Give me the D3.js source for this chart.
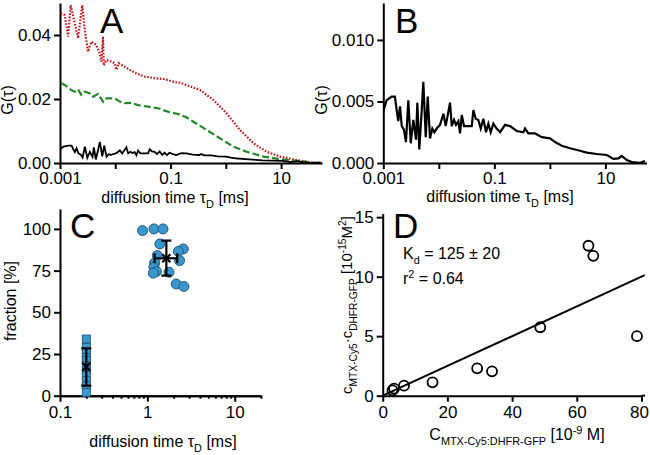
<!DOCTYPE html>
<html><head><meta charset="utf-8">
<script src="https://cdn.jsdelivr.net/npm/d3@7"></script>
<style>
body{margin:0;background:#fff;}
text{font-family:"Liberation Sans",Arial,sans-serif;fill:#000;}
</style></head>
<body>
<svg id="c" width="650" height="455"></svg>
<script>
// ---------- DATA ----------
// Panel A/B black curve (same measurement)
const tauBlack = [0.001,0.00115,0.00142,0.00162,0.00174,0.00186,0.0020,0.00215,0.00236,0.00256,0.00282,0.00312,0.00347,0.00388,0.0041,0.00445,0.00492,0.00526,0.00581,0.00631,0.00694,0.00764,0.0083,0.00916,0.0105,0.0121,0.0133,0.0159,0.0171,0.0188,0.0204,0.0225,0.0241,0.0259,0.0284,0.034,0.0392,0.0419,0.0462,0.0515,0.0569,0.0634,0.0708,0.078,0.0861,0.096,0.110,0.127,0.156,0.192,0.253,0.333,0.357,0.41,0.541,0.714,1.01,1.24,1.64,2.31,3.5,4.62,7.0,10.6,13.9,17.1,19.7,24.3,29.9,42.2,51.9];
const gBlack = [0.0042,0.0051,0.0054,0.0054,0.0043,0.0034,0.0046,0.0030,0.0027,0.0017,0.0051,0.0016,0.0035,0.0019,0.0049,0.0011,0.0043,0.0066,0.0021,0.0054,0.0020,0.0028,0.0025,0.0028,0.0031,0.0040,0.0030,0.0049,0.0030,0.0035,0.0031,0.0034,0.0024,0.0039,0.0030,0.0030,0.0030,0.0043,0.0036,0.0035,0.0028,0.0036,0.0025,0.0032,0.0025,0.0032,0.0028,0.0025,0.0031,0.0030,0.0026,0.0025,0.0028,0.0024,0.0024,0.0021,0.0020,0.0017,0.0014,0.0012,0.0010,0.00084,0.00073,0.00065,0.00033,0.00038,0.00057,0.00024,0.00008,0.00002,0.00016];
// Panel A red dotted curve
const tauRed = [0.00103,0.00122,0.0014,0.00156,0.00185,0.00212,0.00253,0.0028,0.00321,0.00369,0.00454,0.00523,0.00559,0.0060,0.0062,0.00689,0.00848,0.00977,0.01045,0.01154,0.01483,0.01828,0.02404,0.0341,0.0518,0.0785,0.111,0.149,0.342,0.596,1.04,1.81,3.16,5.51,9.6,19.2,38.5,55];
const gRed = [0.0468,0.0462,0.0395,0.0493,0.0437,0.039,0.0493,0.0416,0.0348,0.0379,0.0369,0.0343,0.0317,0.0395,0.0305,0.0322,0.0317,0.0312,0.0291,0.0312,0.0301,0.0291,0.028,0.027,0.0265,0.0262,0.0254,0.0251,0.0228,0.0197,0.0155,0.0103,0.0062,0.0035,0.002,0.0009,0.0001,0.0];
// Panel A green dashed curve
const tauGreen = [0.00106,0.00122,0.0016,0.00185,0.00212,0.00243,0.0028,0.00345,0.00396,0.00487,0.006,0.00644,0.00848,0.01045,0.01204,0.01483,0.0195,0.0258,0.0392,0.0594,0.0901,0.137,0.193,0.259,0.452,0.787,1.37,2.39,4.79,9.6,19.2,38.5,55];
const gGreen = [0.0249,0.0244,0.0228,0.0223,0.023,0.0213,0.0223,0.0218,0.0207,0.0216,0.0192,0.0202,0.0202,0.0199,0.0192,0.0187,0.0188,0.0181,0.0176,0.0171,0.016,0.0153,0.0143,0.0129,0.0103,0.0077,0.0051,0.0035,0.002,0.0012,0.0007,0.0001,0.0];
// Panel C
const circTau = [0.88,1.19,1.51,1.39,1.30,1.21,1.19,1.27,1.17,1.77,2.58,2.26,2.34,2.14,2.62];
const circFrac = [99,100,100,91,84,79.5,77,74.5,73.5,74,88,86.5,81,67,65.5];
const sqTau = [0.2,0.2,0.2,0.2,0.2,0.2,0.2,0.2,0.2,0.2,0.2];
const sqFrac = [34,29,26,23,21,18,15,12,9,6,2];
const meanTau = [0.2,1.65], meanFrac = [17.4,82.4];
const fracLo = [6,72], fracHi = [28.4,93];
const tauLo = [0.2,1.21], tauHi = [0.2,2.2];
// Panel D
const dX = [3.0,3.5,6.6,15.4,29.2,33.8,48.7,63.6,65.1,78.6];
const dY = [0.45,0.6,0.84,1.12,2.3,2.05,5.75,12.6,11.75,5.0];
const Kd = 125, fitXMax = 81;
// Ticks
const ticksAB = [0.001,0.01,0.1,1,10];
const labelsAB = [0.001,0.1,10];
const ticksAy = [0,0.02,0.04], ticksBy = [0,0.005,0.010];
const ticksCx = [0.1,1,10], ticksCy = [0,25,50,75,100];
const ticksDx = [0,20,40,60,80], ticksDy = [0,5,10,15];

// ---------- DRAW ----------
const svg = d3.select('#c');
const TF = 17, LF = 16;
const FAM = '"Liberation Sans", Arial, sans-serif';

function txt(sel, size){ return sel.style('font-size', size+'px').style('font-family', FAM); }
function rich(t, parts, size){
  let cur = 0;
  parts.forEach(([s,k])=>{
    const off = k==='sub' ? size*0.3 : k==='sup' ? -size*0.4 : 0;
    t.append('tspan').attr('dy', off-cur).style('font-size', (k==='n'?size:size*0.68)+'px').text(s);
    cur = off;
  });
}
function styleAxis(g){
  g.attr('font-size', null).attr('font-family', null);
  g.select('.domain').attr('stroke','#000').attr('stroke-width',2);
  g.selectAll('.tick line').attr('stroke','#000').attr('stroke-width',2);
  txt(g.selectAll('.tick text'), TF).attr('fill','#000');
  return g;
}
const fmtAB = d => labelsAB.includes(d) ? String(d) : '';

function gPanel(x0,x1,yTop,yBot,yDom,yTicks,yFmt,id){
  const x = d3.scaleLog().domain([0.001,55]).range([x0,x1]);
  const y = d3.scaleLinear().domain(yDom).range([yBot,yTop]);
  svg.append('clipPath').attr('id',id).append('rect').attr('x',x0).attr('y',yTop).attr('width',x1-x0).attr('height',yBot-yTop);
  styleAxis(svg.append('g').attr('transform',`translate(${x0},0)`)
    .call(d3.axisLeft(y).tickValues(yTicks).tickFormat(yFmt).tickSize(6).tickSizeOuter(0).tickPadding(3)));
  styleAxis(svg.append('g').attr('transform',`translate(0,${yBot})`)
    .call(d3.axisBottom(x).tickValues(ticksAB).tickFormat(fmtAB).tickSize(6).tickSizeOuter(0).tickPadding(3)));
  return {x,y};
}

// Panel A
const A = gPanel(60,322,3,163,[0,0.05],ticksAy,d3.format('.2f'),'clipA');
const lineA = (tt,gg)=> d3.line().x((d,i)=>A.x(tt[i])).y(d=>A.y(d))(gg.slice(0,tt.length));
const layerA = svg.append('g').attr('clip-path','url(#clipA)');
layerA.append('path').attr('d',lineA(tauRed,gRed)).attr('fill','none').attr('stroke','#c4161c').attr('stroke-width',2.2).attr('stroke-dasharray','1.6,1.6');
layerA.append('path').attr('d',lineA(tauGreen,gGreen)).attr('fill','none').attr('stroke','#22882a').attr('stroke-width',2.2).attr('stroke-dasharray','7,3');
layerA.append('path').attr('d',lineA(tauBlack,gBlack)).attr('fill','none').attr('stroke','#000').attr('stroke-width',1.8);

// Panel B
const B = gPanel(383.3,646.5,3,163,[0,0.013],ticksBy,d3.format('.3f'),'clipB');
svg.append('g').attr('clip-path','url(#clipB)').append('path')
  .attr('d',d3.line().x((d,i)=>B.x(tauBlack[i])).y(d=>B.y(d))(gBlack.slice(0,tauBlack.length)))
  .attr('fill','none').attr('stroke','#000').attr('stroke-width',2.2);

// Axis labels
function tauLabel(cx,by){
  const t = txt(svg.append('text').attr('x',cx).attr('y',by).attr('text-anchor','middle'), LF);
  rich(t,[['diffusion time \u03C4','n'],['D','sub'],[' [ms]','n']],LF);
}
tauLabel(175,203); tauLabel(500,202);
function gLabel(x,y){
  txt(svg.append('text').attr('transform',`translate(${x},${y}) rotate(-90)`).attr('text-anchor','middle'), LF).text('G(\u03C4)');
}
gLabel(13,100); gLabel(327,100);

// Panel C
const Cx = d3.scaleLog().domain([0.1,20]).range([60,261]);
const Cy = d3.scaleLinear().domain([0,112]).range([395.7,208.9]);
const minorC = [0.2,0.3,0.4,0.5,0.6,0.7,0.8,0.9,2,3,4,5,6,7,8,9,20];
styleAxis(svg.append('g').attr('transform','translate(0,395.7)').call(d3.axisBottom(Cx).tickValues(minorC).tickFormat('').tickSize(3).tickSizeOuter(0)));
styleAxis(svg.append('g').attr('transform','translate(0,395.7)').call(d3.axisBottom(Cx).tickValues(ticksCx).tickFormat(d=>String(d)).tickSize(6).tickSizeOuter(0).tickPadding(4)));
styleAxis(svg.append('g').attr('transform','translate(60,0)').call(d3.axisLeft(Cy).tickValues(ticksCy).tickSize(6).tickSizeOuter(0).tickPadding(3)));
const blue = '#3a96cc', blueEdge = '#1b4f72';
svg.append('g').selectAll('rect').data(sqFrac).join('rect')
  .attr('x',(d,i)=>Cx(sqTau[i])-4).attr('y',d=>Cy(d)-4).attr('width',8).attr('height',8)
  .attr('fill',blue).attr('stroke',blueEdge).attr('stroke-width',0.8);
svg.append('g').selectAll('circle').data(circFrac).join('circle')
  .attr('cx',(d,i)=>Cx(circTau[i])).attr('cy',d=>Cy(d)).attr('r',5)
  .attr('fill',blue).attr('stroke',blueEdge).attr('stroke-width',0.9);
const eb = svg.append('g').attr('stroke','#000').attr('stroke-width',2.2);
meanTau.forEach((t,i)=>{
  const cx = Cx(t), cy = Cy(meanFrac[i]);
  eb.append('line').attr('x1',cx).attr('x2',cx).attr('y1',Cy(fracLo[i])).attr('y2',Cy(fracHi[i]));
  [fracLo[i],fracHi[i]].forEach(v=>eb.append('line').attr('x1',cx-5).attr('x2',cx+5).attr('y1',Cy(v)).attr('y2',Cy(v)));
  if (tauHi[i]>tauLo[i]){
    eb.append('line').attr('x1',Cx(tauLo[i])).attr('x2',Cx(tauHi[i])).attr('y1',cy).attr('y2',cy);
    [tauLo[i],tauHi[i]].forEach(v=>eb.append('line').attr('x1',Cx(v)).attr('x2',Cx(v)).attr('y1',cy-5).attr('y2',cy+5));
  }
  eb.append('line').attr('x1',cx-4).attr('x2',cx+4).attr('y1',cy-4).attr('y2',cy+4);
  eb.append('line').attr('x1',cx-4).attr('x2',cx+4).attr('y1',cy+4).attr('y2',cy-4);
});
tauLabel(163,447);
txt(svg.append('text').attr('transform','translate(16,301) rotate(-90)').attr('text-anchor','middle'), LF).text('fraction [%]');

// Panel D
const Dx = d3.scaleLinear().domain([0,80]).range([382.7,641.5]);
const Dy = d3.scaleLinear().domain([0,15.3]).range([395.7,213.6]);
const gdx = styleAxis(svg.append('g').attr('transform','translate(0,395.7)').call(d3.axisBottom(Dx).tickValues(ticksDx).tickSize(6).tickSizeOuter(0).tickPadding(4)));
gdx.selectAll('.tick text').filter(d=>d===80).attr('dx',-2.5);
svg.append('line').attr('x1',Dx(80)).attr('x2',645).attr('y1',395.7).attr('y2',395.7).attr('stroke','#000').attr('stroke-width',2);
styleAxis(svg.append('g').attr('transform','translate(382.7,0)').call(d3.axisLeft(Dy).tickValues(ticksDy).tickSize(6).tickSizeOuter(0).tickPadding(3)));
svg.append('line').attr('x1',Dx(0)).attr('y1',Dy(0)).attr('x2',Dx(fitXMax)).attr('y2',Dy(fitXMax*Kd/1000))
  .attr('stroke','#000').attr('stroke-width',2);
svg.append('g').selectAll('circle').data(dY).join('circle')
  .attr('cx',(d,i)=>Dx(dX[i])).attr('cy',d=>Dy(d)).attr('r',5)
  .attr('fill','none').attr('stroke','#000').attr('stroke-width',1.8);
const kt = txt(svg.append('text').attr('x',403).attr('y',259), LF);
rich(kt,[['K','n'],['d','sub'],[' = 125 \u00B1 20','n']],LF);
const rt = txt(svg.append('text').attr('x',403).attr('y',284), LF);
rich(rt,[['r','n'],['2','sup'],['  = 0.64','n']],LF);
const dxl = txt(svg.append('text').attr('x',517).attr('y',440).attr('text-anchor','middle'), LF);
rich(dxl,[['C','n'],['MTX-Cy5:DHFR-GFP','sub'],[' [10','n'],['-9','sup'],[' M]','n']],LF);
const dyl = txt(svg.append('text').attr('transform','translate(352,305) rotate(-90)').attr('text-anchor','middle'), 15);
rich(dyl,[['c','n'],['MTX-Cy5','sub'],['\u00B7c','n'],['DHFR-GFP','sub'],['  [10','n'],['-15','sup'],['M','n'],['2','sup'],[']','n']],15);

// Panel letters
const letters = [['A',100,33],['B',395,33],['C',70,238],['D',393,238]];
letters.forEach(([s,x,y])=>txt(svg.append('text').attr('x',x).attr('y',y), 35).text(s));
</script>
</body></html>
